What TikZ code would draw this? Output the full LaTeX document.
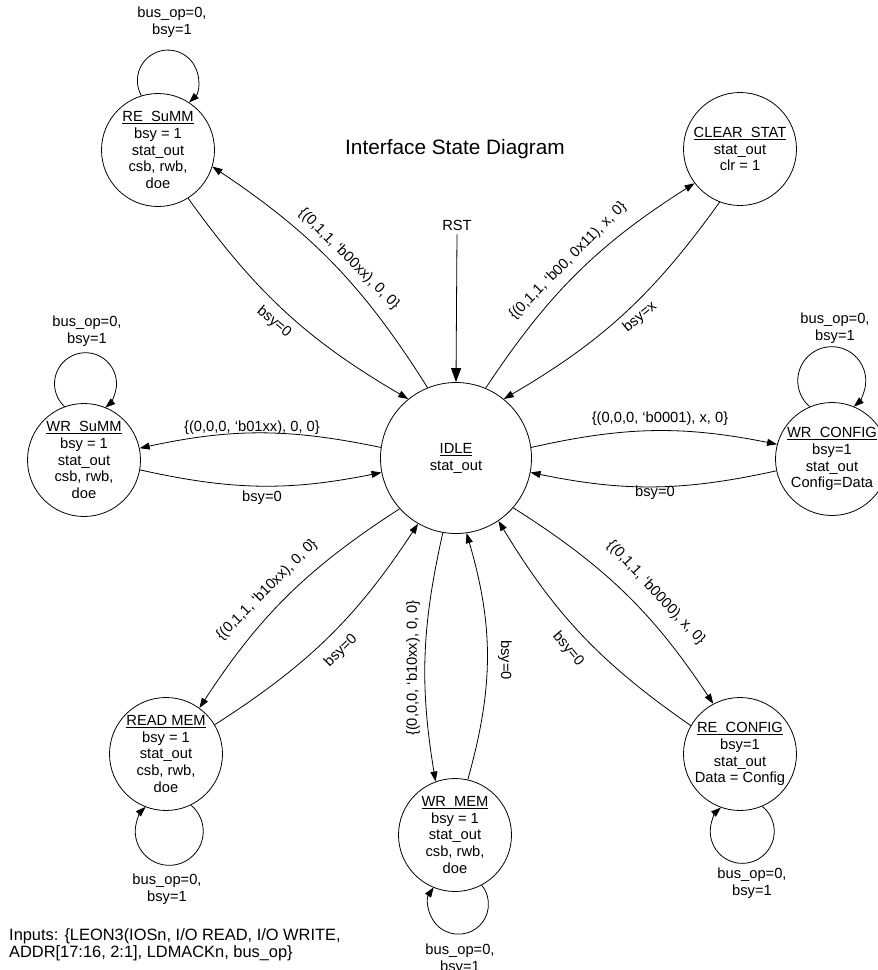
\documentclass[tikz,border=0pt]{standalone}
\usepackage{fontspec}
\setmainfont{Liberation Sans}
\usetikzlibrary{arrows.meta}
\newcommand\nf{\fontsize{14.7}{16.8}\selectfont}
\newcommand\inpfont{\fontsize{16.4}{17.2}\selectfont}
\newcommand\ttlf{\fontsize{20.8}{24}\selectfont}
\newcommand\myul[1]{\setbox0\hbox{#1}\rlap{\rule[-2.6pt]{\wd0}{0.75pt}}\box0}
\begin{document}
\begin{tikzpicture}[x=1pt,y=1pt,
  st/.style={draw, circle, minimum size=113pt, inner sep=0pt, align=center, font=\nf, line width=0.8pt},
  idl/.style={st, minimum size=151pt},
  tr/.style={line width=0.8pt, -{Triangle[length=10pt,width=7pt]}},
  bigtr/.style={line width=0.8pt, -{Triangle[length=14pt,width=10pt]}},
  lbl/.style={font=\nf, inner sep=0pt, align=center},
]
\useasboundingbox (0,0) rectangle (878,-970);

% states
\node[idl] (idle) at (456,-458) {\myul{IDLE}\\stat\_out};
\node[st] (resumm) at (158,-150) {\myul{RE\_SuMM}\\bsy = 1\\stat\_out\\csb, rwb,\\doe};
\node[st] (clear) at (740,-149) {\myul{CLEAR\_STAT}\\stat\_out\\clr = 1};
\node[st] (wrsumm) at (84,-460) {\myul{WR\_SuMM}\\bsy = 1\\stat\_out\\csb, rwb,\\doe};
\node[st] (wrconfig) at (832,-459) {\myul{WR\_CONFIG}\\bsy=1\\stat\_out\\Config=Data};
\node[st] (readmem) at (166,-754) {\myul{READ MEM}\\bsy = 1\\stat\_out\\csb, rwb,\\doe};
\node[st] (wrmem) at (455,-835) {\myul{WR\_MEM}\\bsy = 1\\stat\_out\\csb, rwb,\\doe};
\node[st] (reconfig) at (740,-754) {\myul{RE\_CONFIG}\\bsy=1\\stat\_out\\Data = Config};

% title, reset
\node[inner sep=0pt, font=\ttlf] (title) at (455,-149) {Interface State Diagram};
\node[lbl] (rst) at (457,-225) {RST};
\draw[bigtr] (rst.south) ++(0,-4) coordinate (rsttop) -- (idle.north);

% edges
\draw[tr] (idle.112) to[bend right=12] (resumm.-17);
\draw[tr] (resumm.-58) to[bend right=12] (idle.129);
\draw[tr] (idle.67) to[bend left=12] (clear.217);
\draw[tr] (clear.249) to[bend left=12] (idle.51);
\draw[tr] (idle.172) to[bend right=12] (wrsumm.12);
\draw[tr] (wrsumm.-10) to[bend right=12] (idle.191);
\draw[tr] (idle.8) to[bend left=12] (wrconfig.165);
\draw[tr] (wrconfig.192) to[bend left=12] (idle.-11);
\draw[tr] (idle.222) to[bend right=12] (readmem.54);
\draw[tr] (readmem.31) to[bend right=12] (idle.240);
\draw[tr] (idle.260) to[bend right=11] (wrmem.110);
\draw[tr] (wrmem.77) to[bend right=16] (idle.-82);
\draw[tr] (idle.-41) to[bend left=12] (reconfig.118);
\draw[tr] (reconfig.150) to[bend left=12] (idle.-56);

% self loops
\draw[tr] (resumm.107) arc[start angle=209.5, end angle=-46, radius=30.5pt];
\draw[tr] (wrsumm.110) arc[start angle=227.4, end angle=-50.4, radius=31pt];
\draw[tr] (wrconfig.113) arc[start angle=229.7, end angle=-49.7, radius=34pt];
\draw[tr] (readmem.-64) arc[start angle=50.3, end angle=-225.9, radius=34pt];
\draw[tr] (wrmem.-62) arc[start angle=39.2, end angle=-214.2, radius=30pt];
\draw[tr] (reconfig.-67) arc[start angle=51.3, end angle=-228.3, radius=32pt];

% edge labels
\node[lbl, rotate=-45] (l1) at (349,-259) {\{(0,1,1, ‘b00xx), 0, 0\}};
\node[lbl, rotate=-40] (l2) at (274,-322) {bsy=0};
\node[lbl, rotate=45] (l3) at (568,-261) {\{(0,1,1, ‘b00, 0x11), x, 0\}};
\node[lbl, rotate=40] (l4) at (640,-317) {bsy=x};
\node[lbl] (l5) at (252,-428) {\{(0,0,0, ‘b01xx), 0, 0\}};
\node[lbl] (l6) at (262,-498) {bsy=0};
\node[lbl] (l7) at (660,-419) {\{(0,0,0, ‘b0001), x, 0\}};
\node[lbl] (l8) at (655,-493) {bsy=0};
\node[lbl, rotate=45] (l9) at (267,-590) {\{(0,1,1, ‘b10xx), 0, 0\}};
\node[lbl, rotate=45] (l10) at (341,-651) {bsy=0};
\node[lbl, rotate=90] (l11) at (413,-668) {\{(0,0,0, ‘b10xx), 0, 0\}};
\node[lbl, rotate=-90] (l12) at (505,-660) {bsy=0};
\node[lbl, rotate=-47] (l13) at (656,-593) {\{(0,1,1, ‘b0000), x, 0\}};
\node[lbl, rotate=-50] (l14) at (568,-649) {bsy=0};

% loop labels
\node[lbl] (s1) at (172,-22) {bus\_op=0,\\bsy=1};
\node[lbl] (s2) at (87,-331) {bus\_op=0,\\bsy=1};
\node[lbl] (s3) at (835,-328) {bus\_op=0,\\bsy=1};
\node[lbl] (s4) at (167,-889) {bus\_op=0,\\bsy=1};
\node[lbl] (s5) at (460,-959) {bus\_op=0,\\bsy=1};
\node[lbl] (s6) at (752,-883) {bus\_op=0,\\bsy=1};

% inputs
\node[inner sep=0pt, font=\inpfont, align=left, anchor=west] (inputs) at (9,-945) {Inputs: \{LEON3(IOSn, I/O READ, I/O WRITE,\\ADDR[17:16, 2:1], LDMACKn, bus\_op\}};
\end{tikzpicture}
\end{document}
